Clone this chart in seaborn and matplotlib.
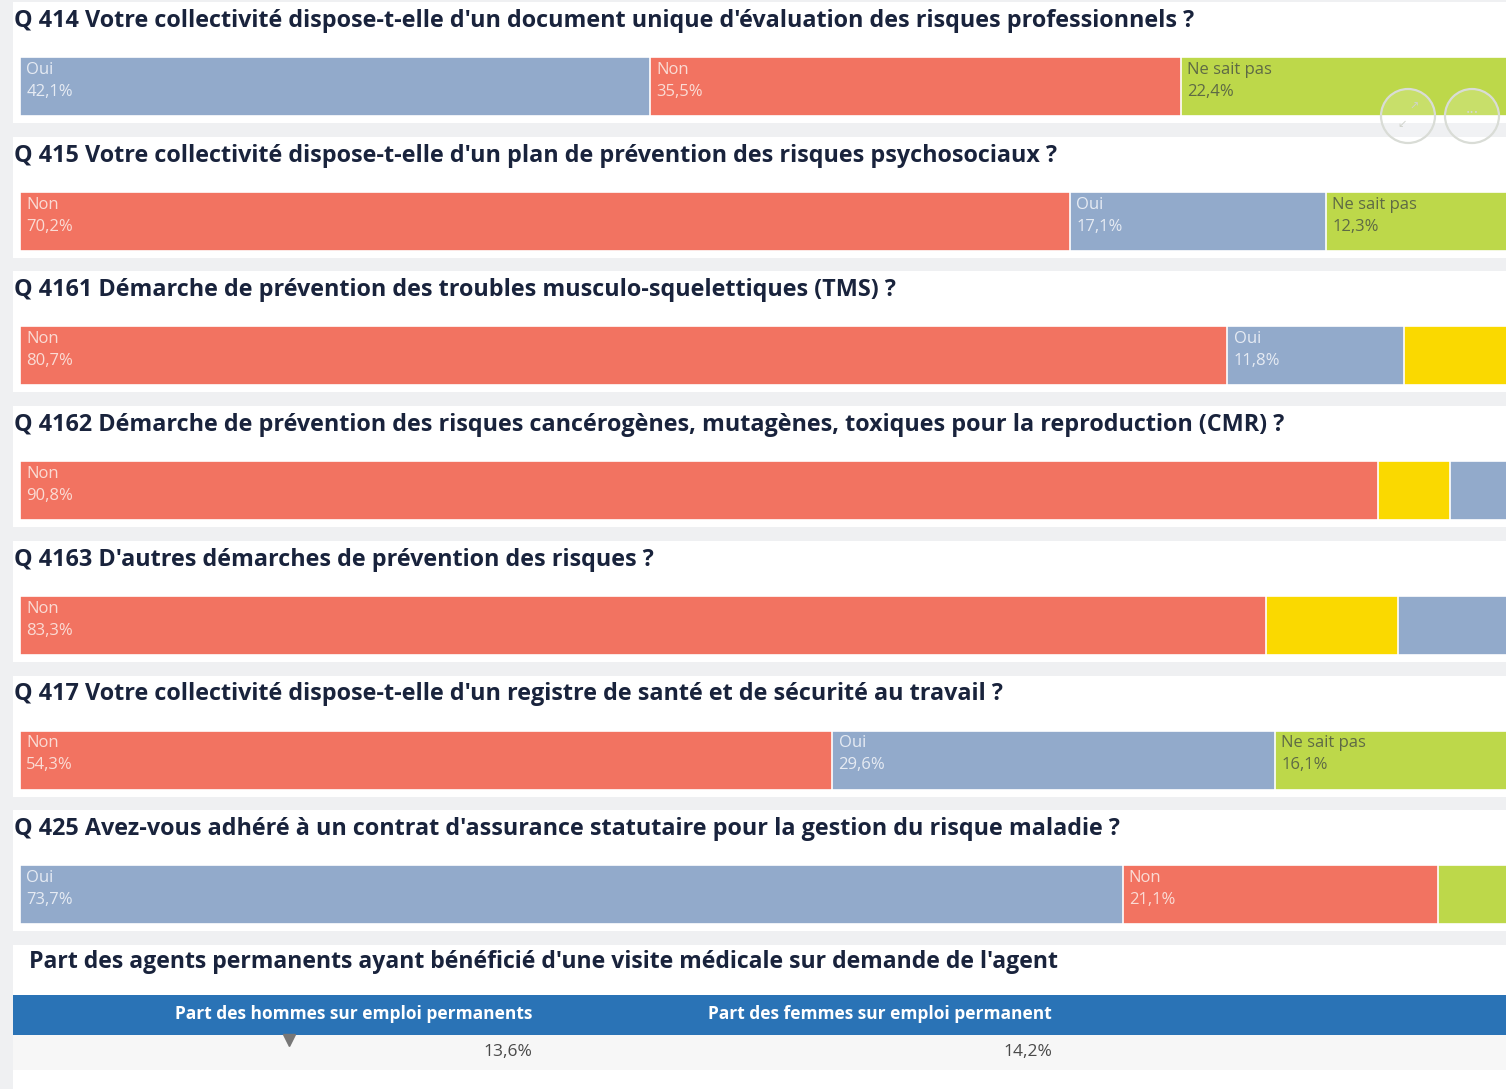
import numpy as np
import pandas as pd
import matplotlib
matplotlib.use("Agg")
import matplotlib.pyplot as plt
from matplotlib.patches import Circle
import seaborn as sns

# data
titles = [
    "Q 414 Votre collectivité dispose-t-elle d'un document unique d'évaluation des risques professionnels ?",
    "Q 415 Votre collectivité dispose-t-elle d'un plan de prévention des risques psychosociaux ?",
    "Q 4161 Démarche de prévention des troubles musculo-squelettiques (TMS) ?",
    "Q 4162 Démarche de prévention des risques cancérogènes, mutagènes, toxiques pour la reproduction (CMR) ?",
    "Q 4163 D'autres démarches de prévention des risques ?",
    "Q 417 Votre collectivité dispose-t-elle d'un registre de santé et de sécurité au travail ?",
    "Q 425 Avez-vous adhéré à un contrat d'assurance statutaire pour la gestion du risque maladie ?",
]
answers = [
    ["Oui", "Non", "Ne sait pas"],
    ["Non", "Oui", "Ne sait pas"],
    ["Non", "Oui", "Sans réponse"],
    ["Non", "Sans réponse", "Oui"],
    ["Non", "Sans réponse", "Oui"],
    ["Non", "Oui", "Ne sait pas"],
    ["Oui", "Non", "Ne sait pas"],
]
values = [
    [42.1, 35.5, 22.4],
    [70.2, 17.1, 12.3],
    [80.7, 11.8, 7.5],
    [90.8, 4.8, 4.4],
    [83.3, 8.8, 7.9],
    [54.3, 29.6, 16.1],
    [73.7, 21.1, 5.2],
]
table_title = "Part des agents permanents ayant bénéficié d'une visite médicale sur demande de l'agent"
table_cols = ["Part des hommes sur emploi permanents", "Part des femmes sur emploi permanent"]
table_vals = [13.6, 14.2]

palette = {"Oui": "#92aacb", "Non": "#f27361", "Ne sait pas": "#bdd84a", "Sans réponse": "#fad900"}
label_color = {"Oui": "#e6ebf3", "Non": "#fadcd5", "Ne sait pas": "#5e6a45", "Sans réponse": "#5e5a30"}

sns.set_theme(style="white")
plt.rcParams["font.family"] = ["Open Sans", "DejaVu Sans"]

W, H = 1506, 1089
fig = plt.figure(figsize=(W / 100, H / 100), dpi=100)
fig.patch.set_facecolor("#eff0f2")


def box(x, y, w, h):
    return [x / W, 1 - (y + h) / H, w / W, h / H]


def fmt(v):
    return f"{v:.1f}%".replace(".", ",")


step = 134.7
for i, (title, ans, vals) in enumerate(zip(titles, answers, values)):
    top = 2 + step * i
    bg = fig.add_axes(box(13, top, W - 13, 121))
    bg.set_facecolor("white")
    bg.set_xticks([]); bg.set_yticks([])
    for s in bg.spines.values():
        s.set_visible(False)
    fig.text(14 / W, 1 - (top + 19) / H, title, fontsize=16.8, fontweight="bold",
             color="#19233c", va="center", ha="left")

    ax = fig.add_axes(box(20, top + 55, 1496, 59))
    ends = np.cumsum(vals)
    # stack by drawing the cumulative totals from back to front
    for a, e in list(zip(ans, ends))[::-1]:
        sns.barplot(x=[e], y=[""], orient="h", color=palette[a], saturation=1,
                    width=1, edgecolor="white", linewidth=1.2, ax=ax)
    ax.set_xlim(0, 100)
    ax.set_ylim(0.5, -0.5)
    ax.axis("off")
    starts = ends - np.array(vals)
    for a, s0, v in zip(ans, starts, vals):
        if v >= 10:
            ax.annotate(f"{a}\n{fmt(v)}", xy=(s0, 1), xycoords=("data", "axes fraction"),
                        xytext=(4.5, -3.5), textcoords="offset points", ha="left", va="top",
                        fontsize=12, color=label_color[a], linespacing=1.5)

# table panel
top = 2 + step * 7
bg = fig.add_axes(box(13, top, W - 13, H - top))
bg.set_facecolor("white")
bg.set_xlim(13, W); bg.set_ylim(H, top)
bg.set_xticks([]); bg.set_yticks([])
for s in bg.spines.values():
    s.set_visible(False)
bg.axhspan(995, 1035, color="#2a73b6", lw=0)
bg.axhspan(1035, 1070, color="#f7f7f7", lw=0)
fig.text(29 / W, 1 - 962 / H, table_title, fontsize=16.6, fontweight="bold",
         color="#19233c", va="center", ha="left")
for xr, col, v in zip([532, 1052], table_cols, table_vals):
    bg.text(xr, 1014, col, ha="right", va="center", fontsize=12.5, fontweight="bold", color="white")
    bg.text(xr, 1052, fmt(v), ha="right", va="center", fontsize=12.5, color="#4a4a4a")
bg.plot([289], [1040], marker="v", markersize=8, color="#777777", linestyle="none")

# faint hover buttons over the first chart
ov = fig.add_axes([0, 0, 1, 1])
ov.set_xlim(0, W); ov.set_ylim(H, 0)
ov.axis("off")
ov.patch.set_alpha(0)
for cx in [1408, 1472]:
    ov.add_patch(Circle((cx, 116), 27, facecolor="white", alpha=0.18, lw=0))
    ov.add_patch(Circle((cx, 116), 27, fill=False, edgecolor="#d9dcd6", lw=1.6))
ov.text(1472, 114, "···", ha="center", va="center", fontsize=12, color="#d5d8d0")
ov.text(1414, 107, "↗", ha="center", va="center", fontsize=8, color="#d0d3cc")
ov.text(1402, 125, "↙", ha="center", va="center", fontsize=8, color="#d0d3cc")

fig.savefig("out.png", dpi=100, facecolor=fig.get_facecolor())
